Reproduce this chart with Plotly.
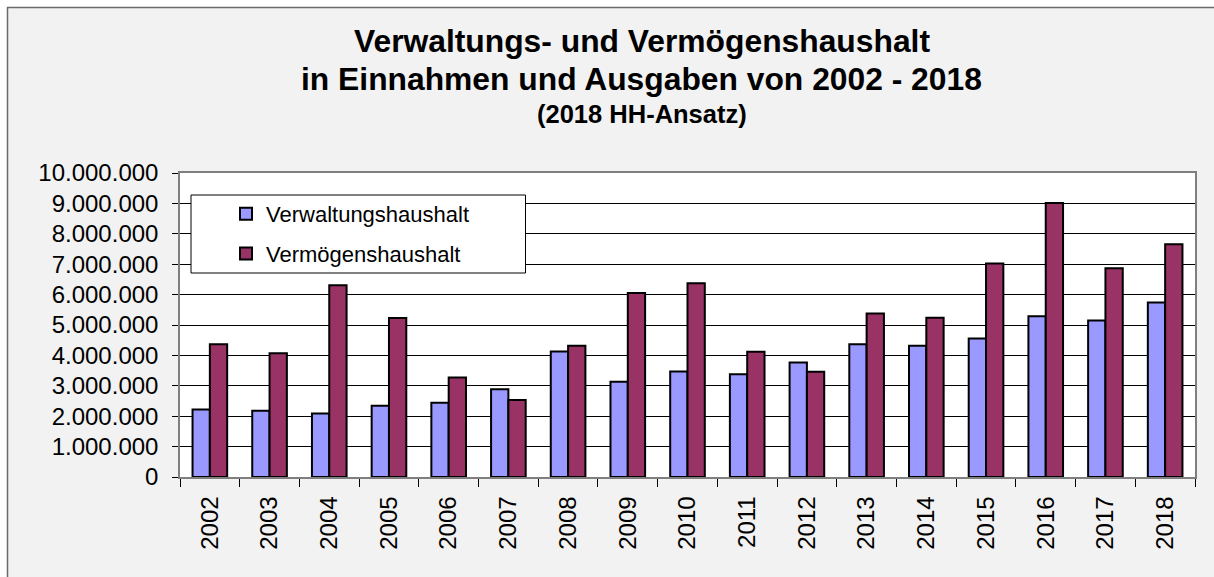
import plotly.graph_objects as go

years = [str(y) for y in range(2002, 2019)]
verwaltung = [2220000, 2180000, 2090000, 2340000, 2440000, 2890000, 4130000, 3130000, 3470000,
              3380000, 3770000, 4370000, 4320000, 4560000, 5290000, 5150000, 5740000]
vermoegen = [4370000, 4070000, 6310000, 5230000, 3270000, 2530000, 4320000, 6050000, 6370000,
             4120000, 3460000, 5380000, 5240000, 7020000, 9010000, 6870000, 7660000]

W, H = 1214, 577
L, R, T, B = 180, 19, 173, 100
PW, PH = W - L - R, H - T - B


def px(x):
    return (x - L) / PW


def py(y):
    return (H - B - y) / PH


FONT = "Arial, Liberation Sans, sans-serif"

fig = go.Figure()
fig.add_trace(go.Bar(x=years, y=verwaltung, name="Verwaltungshaushalt", legendgroup="a",
                     marker=dict(color="#9999FF", line=dict(color="black", width=2))))
fig.add_trace(go.Bar(x=years, y=vermoegen, name="Vermögenshaushalt", legendgroup="b",
                     marker=dict(color="#993366", line=dict(color="black", width=2))))

shapes = [
    # white strips outside outer frame
    dict(type="rect", xref="paper", yref="paper", x0=px(-2), x1=px(W + 2), y0=py(-2), y1=py(7),
         fillcolor="white", line=dict(width=0), layer="below"),
    dict(type="rect", xref="paper", yref="paper", x0=px(-2), x1=px(7), y0=py(-2), y1=py(H + 2),
         fillcolor="white", line=dict(width=0), layer="below"),
    # outer frame lines
    dict(type="line", xref="paper", yref="paper", x0=px(7), x1=px(W + 5), y0=py(7.5), y1=py(7.5),
         line=dict(color="#6a6a6a", width=1.5), layer="below"),
    dict(type="line", xref="paper", yref="paper", x0=px(7.5), x1=px(7.5), y0=py(7), y1=py(H + 5),
         line=dict(color="#6a6a6a", width=1.5), layer="below"),
    # legend box
    dict(type="rect", xref="paper", yref="paper", x0=px(191), x1=px(525.5), y0=py(273), y1=py(195),
         fillcolor="white", line=dict(color="black", width=1), layer="above"),
]

annotations = [
    dict(text="<b>Verwaltungs- und Vermögenshaushalt</b>", x=px(642), y=py(41.5), xref="paper", yref="paper",
         showarrow=False, xanchor="center", yanchor="middle", font=dict(family=FONT, size=31.8, color="black")),
    dict(text="<b>in Einnahmen und Ausgaben von 2002 - 2018</b>", x=px(641), y=py(78.5), xref="paper", yref="paper",
         showarrow=False, xanchor="center", yanchor="middle", font=dict(family=FONT, size=31.8, color="black")),
    dict(text="<b>(2018 HH-Ansatz)</b>", x=px(641.5), y=py(113.5), xref="paper", yref="paper",
         showarrow=False, xanchor="center", yanchor="middle", font=dict(family=FONT, size=25.5, color="black")),
]

fig.update_layout(
    width=W, height=H,
    margin=dict(l=L, r=R, t=T, b=B),
    paper_bgcolor="#f2f2f2",
    plot_bgcolor="white",
    separators=",.",
    barmode="group",
    bargap=0.42,
    bargroupgap=0,
    font=dict(family=FONT, color="black"),
    shapes=shapes,
    annotations=annotations,
    showlegend=True,
    legend=dict(x=px(226), y=py(193), xanchor="left", yanchor="top", bgcolor="rgba(0,0,0,0)",
                borderwidth=0, traceorder="grouped", tracegroupgap=8,
                font=dict(family=FONT, size=22, color="black")),
    xaxis=dict(type="category", showline=True, linecolor="#7f7f7f", linewidth=1.5, mirror=True,
               ticks="outside", ticklen=8, tickcolor="black", tickson="boundaries",
               tickangle=-90, ticklabelstandoff=8, tickfont=dict(family=FONT, size=24, color="black"),
               showgrid=False, zeroline=False),
    yaxis=dict(range=[0, 10000000], dtick=1000000, tickformat=",d", showline=True,
               linecolor="#7f7f7f", linewidth=1.5, mirror=True,
               ticks="outside", ticklen=6, tickcolor="black", ticklabelstandoff=9,
               tickfont=dict(family=FONT, size=24, color="black"),
               showgrid=True, gridcolor="black", gridwidth=1, zeroline=False),
)

fig.write_html("out.html", config={"displayModeBar": False},
               post_script="document.body.style.margin='0';document.body.style.padding='0';")
